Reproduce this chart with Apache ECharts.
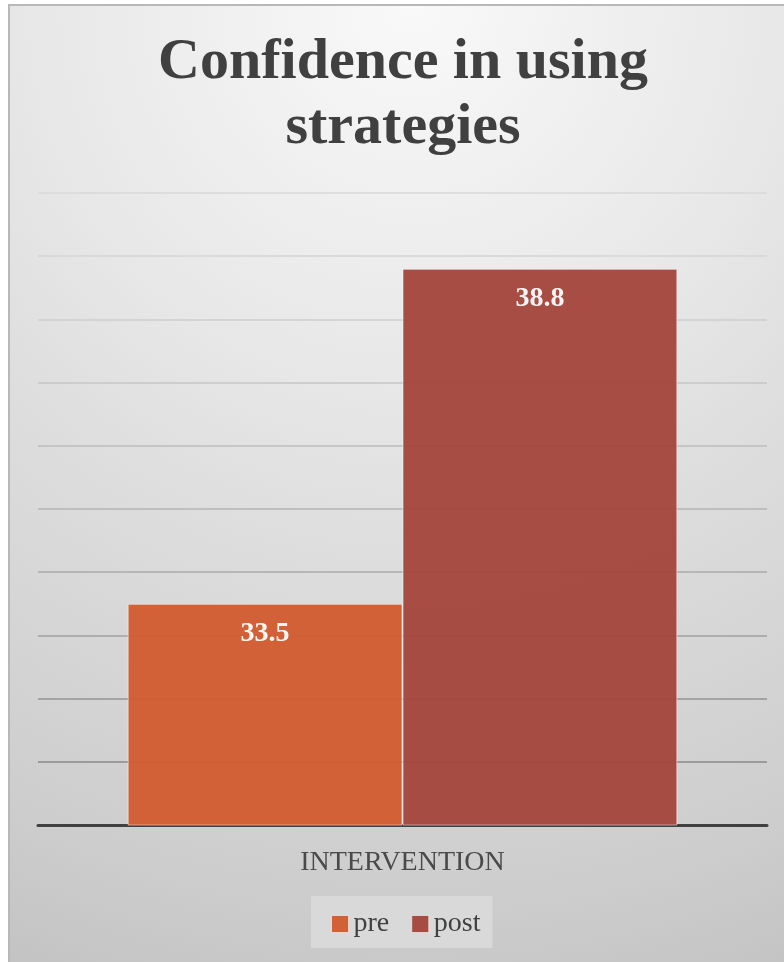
<!DOCTYPE html>
<html>
<head>
<meta charset="utf-8">
<script src="https://cdn.jsdelivr.net/npm/echarts@6/dist/echarts.min.js"></script>
<style>
  html, body { margin: 0; padding: 0; background: #ffffff; }
  #frame {
    position: absolute; left: 8px; top: 4px; width: 776px; height: 958px;
    border-left: 2px solid #b8b8b8; border-top: 2px solid #b8b8b8;
    box-sizing: border-box;
    background: radial-gradient(circle 1040px at 400px 0px,
      #f9f9f9 0%, #efefef 20%, #e7e7e7 37%, #dedede 52%, #cdcdcd 86%, #c3c3c3 100%);
  }
  #chart { position: absolute; left: 0; top: 0; width: 784px; height: 962px; }
</style>
</head>
<body>
<div id="frame"></div>
<div id="chart"></div>
<script>
// Chart values
const categories = ['INTERVENTION'];
const seriesNames = ['pre', 'post'];
const preValues = [33.5];
const postValues = [38.8];
const yMin = 30;
const yMax = 40;
const yStep = 1;

const FONT = "'Liberation Serif', 'Times New Roman', serif";

// gridline shades, bottom (min) to top (max)
const gridShades = ['#7f7f7f', '#8a8a8a', '#959595', '#a0a0a0', '#aaaaaa',
  '#b4b4b4', '#bdbdbd', '#c6c6c6', '#cecece', '#d4d4d4', '#d9d9d9'];

const chart = echarts.init(document.getElementById('chart'), null, { renderer: 'canvas' });

const labelStyle = {
  show: true,
  position: 'insideTop',
  distance: 16,
  color: '#ffffff',
  fontFamily: FONT,
  fontWeight: 'bold',
  fontSize: 28
};

chart.setOption({
  backgroundColor: 'transparent',
  animation: false,
  title: {
    text: 'Confidence in using\nstrategies',
    left: 403,
    textAlign: 'center',
    top: 31,
    padding: 0,
    textStyle: {
      fontFamily: FONT,
      fontWeight: 'bold',
      fontSize: 58,
      lineHeight: 65,
      color: '#404040'
    }
  },
  legend: {
    data: seriesNames,
    left: 311,
    top: 896,
    padding: [14, 12, 10, 20],
    backgroundColor: '#d9d9d9',
    icon: 'rect',
    itemWidth: 17,
    itemHeight: 17,
    itemGap: 22,
    textStyle: { fontFamily: FONT, fontSize: 28, lineHeight: 28, color: '#404040' },
    itemStyle: { borderColor: 'rgba(255,255,255,0.6)', borderWidth: 1 }
  },
  grid: { left: 38, right: 17, top: 193, bottom: 137, containLabel: false },
  xAxis: {
    type: 'category',
    data: categories,
    axisTick: { show: false },
    axisLine: { show: true, lineStyle: { color: '#404040', width: 3 } },
    axisLabel: { fontFamily: FONT, fontSize: 28, color: '#4a4a4a', margin: 24 }
  },
  yAxis: {
    type: 'value',
    min: yMin,
    max: yMax,
    interval: yStep,
    axisLine: { show: false },
    axisTick: { show: false },
    axisLabel: { show: false },
    splitLine: { show: true, lineStyle: { color: gridShades, width: 1.5 } }
  },
  series: [
    {
      name: seriesNames[0],
      type: 'bar',
      data: preValues,
      barGap: '0%',
      barCategoryGap: '24.6%',
      itemStyle: { color: '#d35b2e', opacity: 0.95, borderColor: 'rgba(255,255,255,0.55)', borderWidth: 1 },
      label: labelStyle
    },
    {
      name: seriesNames[1],
      type: 'bar',
      data: postValues,
      barGap: '0%',
      barCategoryGap: '24.6%',
      itemStyle: { color: '#a3453a', opacity: 0.95, borderColor: 'rgba(255,255,255,0.55)', borderWidth: 1 },
      label: labelStyle
    }
  ]
});
</script>
</body>
</html>
